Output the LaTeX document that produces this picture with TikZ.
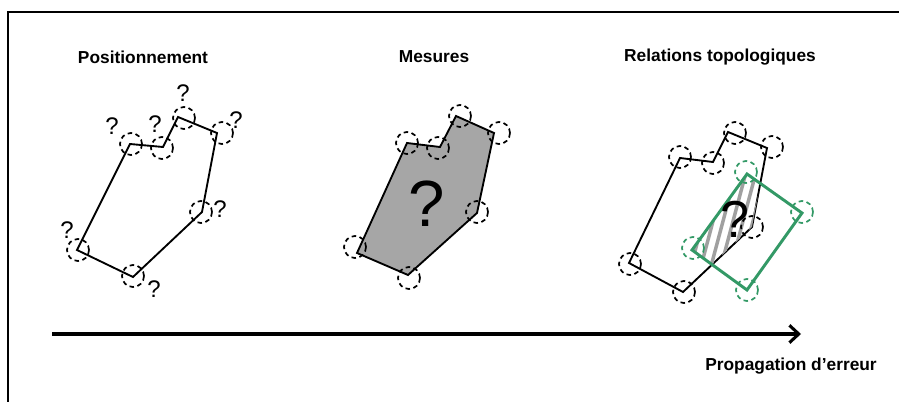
\documentclass[tikz,border=0pt]{standalone}
\usepackage{fontspec}
\setmainfont{Liberation Sans}
\usepackage{xcolor}
\definecolor{topo}{HTML}{339966}
\definecolor{surf}{HTML}{A6A6A6}
\definecolor{hatchgray}{HTML}{A0A0A0}
\usetikzlibrary{positioning,arrows.meta}

\begin{document}
\begin{tikzpicture}[x=0.75pt,y=-0.75pt,
  ttl/.style={font=\fontsize{13}{15}\selectfont\bfseries,inner sep=0pt},
  qm/.style={font=\fontsize{18}{20}\selectfont,inner sep=0pt},
  bigqm/.style={font=\fontsize{49}{50}\selectfont,inner sep=0pt},
  vtx/.style={circle,draw,minimum size=16.5pt,inner sep=0pt,line width=1.3pt,dash pattern=on 3.4pt off 2.6pt},
  edg/.style={line width=1.4pt,line join=miter}]
  \useasboundingbox (0,0) rectangle (899,402);

  % frame (cut on two sides)
  \coordinate (fa) at (8,402);
  \coordinate (fb) at (8,12);
  \coordinate (fc) at (899,12);
  \draw[line width=1.6pt] (fa) -- (fb) -- (fc);

  % titles
  \node[ttl] (tpos) at (143,57) {Positionnement};
  \node[ttl] (tmes) at (434,57) {Mesures};
  \node[ttl] (ttop) at (720,57) {Relations topologiques};

  % --- Positionnement ---
  \coordinate (a1) at (130,144);
  \coordinate (a2) at (163,147);
  \coordinate (a3) at (178,117);
  \coordinate (a4) at (217,133);
  \coordinate (a5) at (202,212);
  \coordinate (a6) at (133,277);
  \coordinate (a7) at (77,250);
  \draw[edg] (a1) -- (a2) -- (a3) -- (a4) -- (a5) -- (a6) -- (a7) -- cycle;
  \node[vtx] (ca1) at (131,144) {};
  \node[vtx] (ca2) at (162,148) {};
  \node[vtx] (ca3) at (184,118) {};
  \node[vtx] (ca4) at (222,133) {};
  \node[vtx] (ca5) at (201,212) {};
  \node[vtx] (ca6) at (133,276) {};
  \node[vtx] (ca7) at (78,250) {};
  \node[qm] (qa1) at (112,126) {?};
  \node[qm] (qa2) at (155,124) {?};
  \node[qm] (qa3) at (183,93) {?};
  \node[qm] (qa4) at (236,120) {?};
  \node[qm] (qa5) at (220,209) {?};
  \node[qm] (qa6) at (154,289) {?};
  \node[qm] (qa7) at (67,230) {?};

  % --- Mesures ---
  \coordinate (b1) at (407,143);
  \coordinate (b2) at (440,147);
  \coordinate (b3) at (456,116);
  \coordinate (b4) at (494,133);
  \coordinate (b5) at (477,213);
  \coordinate (b6) at (408,275);
  \coordinate (b7) at (357,253);
  \draw[edg,fill=surf] (b1) -- (b2) -- (b3) -- (b4) -- (b5) -- (b6) -- (b7) -- cycle;
  \node[vtx] (cb1) at (407,143) {};
  \node[vtx] (cb2) at (438,148) {};
  \node[vtx] (cb3) at (460,116) {};
  \node[vtx] (cb4) at (499,133) {};
  \node[vtx] (cb5) at (477,212) {};
  \node[vtx] (cb6) at (409,278) {};
  \node[vtx] (cb7) at (355,247) {};
  \node[bigqm] (qb) at (427,204) {?};

  % --- Relations topologiques ---
  \coordinate (r1) at (680,158);
  \coordinate (r2) at (713,162);
  \coordinate (r3) at (728,132);
  \coordinate (r4) at (767,148);
  \coordinate (r5) at (752,227);
  \coordinate (r6) at (683,292);
  \coordinate (r7) at (629,263);
  \coordinate (g1) at (747,174);
  \coordinate (g2) at (802,213);
  \coordinate (g3) at (747,290);
  \coordinate (g4) at (692,250);
  \draw[edg] (r1) -- (r2) -- (r3) -- (r4) -- (r5) -- (r6) -- (r7) -- cycle;
  \begin{scope}
    \clip (r1) -- (r2) -- (r3) -- (r4) -- (r5) -- (r6) -- (r7) -- cycle;
    \clip (g1) -- (g2) -- (g3) -- (g4) -- cycle;
    \foreach \k in {0,...,15}
      \draw[hatchgray,line width=2.6pt] (622+10*\k,300) -- (662+10*\k,150);
  \end{scope}
  \draw[topo,line width=2.2pt,line join=miter] (g1) -- (g2) -- (g3) -- (g4) -- cycle;
  \node[vtx] (cr1) at (680,157) {};
  \node[vtx] (cr2) at (713,163) {};
  \node[vtx] (cr3) at (735,133) {};
  \node[vtx] (cr4) at (772,147) {};
  \node[vtx] (cr5) at (752,227) {};
  \node[vtx] (cr6) at (684,292) {};
  \node[vtx] (cr7) at (630,264) {};
  \node[vtx,topo] (cg1) at (746,172) {};
  \node[vtx,topo] (cg2) at (802,212) {};
  \node[vtx,topo] (cg3) at (747,290) {};
  \node[vtx,topo] (cg4) at (693,248) {};
  \node[font=\fontsize{39}{40}\selectfont,inner sep=0pt] (qr) at (735,219) {?};

  % error propagation
  \coordinate (s0) at (52,334);
  \coordinate (s1) at (801,334);
  \draw[line width=2.3pt,-{Straight Barb[length=7pt,width=13pt]}] (s0) -- (s1);
  \node[ttl,anchor=east] (lprop) at (877,366) {Propagation d’erreur};
\end{tikzpicture}
\end{document}
